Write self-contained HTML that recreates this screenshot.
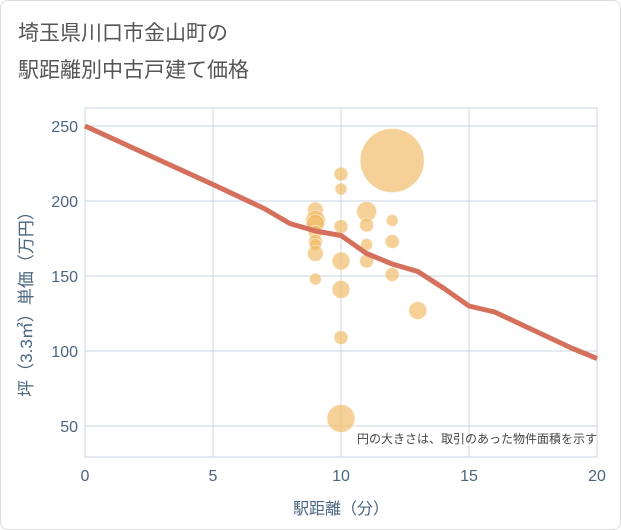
<!DOCTYPE html>
<html><head><meta charset="utf-8"><style>
body{margin:0;background:#fff;font-family:"Liberation Sans","Noto Sans CJK JP",sans-serif}
#wrap{position:relative;width:619px;height:528px;border:1px solid #ddd;border-radius:8px;background:#fff}
</style></head><body>
<div id="wrap">
<svg id="c" width="621" height="530" style="position:absolute;left:-1px;top:-1px">
<text x="18" y="40" font-size="21" fill="#555">埼玉県川口市金山町の</text>
<text x="18" y="77" font-size="21" fill="#555">駅距離別中古戸建て価格</text>
<g id="grid"></g>
<g id="bubbles"></g>
<path id="trend" fill="none" stroke="#d4705c" stroke-width="5" stroke-linejoin="round"/>
<text x="597" y="443" font-size="12" fill="#444" text-anchor="end">円の大きさは、取引のあった物件面積を示す</text>
<text x="341" y="514" font-size="16" fill="#4a6580" text-anchor="middle">駅距離（分）</text>
<text transform="translate(32,300) rotate(-90)" font-size="17" fill="#4a6580" text-anchor="middle">坪（3.3㎡）単価（万円）</text>
</svg></div>
<script>
const xTicks=[0,5,10,15,20];
const yTicks=[50,100,150,200,250];
const bx=[9,9,9,9,9,9,9,9,10,10,10,10,10,10,10,11,11,11,11,12,12,12,12,13];
const by=[194,187,185,179,173,171,165,148,218,208,183,160,141,109,55,193,184,171,160,227,187,173,151,127];
const br=[8,10,9,7,7,6,8,6,7,6,7,9,9,7,14,10,7,6,7,32,6,7,7,9];
const lx=[0,5,7,8,9,10,11,12,13,14,15,16,17,18,19,20];
const ly=[250,211,195,185,180,177,165,158,153,142,130,126,118,110,102,95];
const L=85,R=597,T=108,B=457;
const X=v=>L+v*(R-L)/20, Y=v=>126+(250-v)*1.5;
const ns="http://www.w3.org/2000/svg",g=document.getElementById('grid');
function mk(t,a,p){const e=document.createElementNS(ns,t);for(const k in a)e.setAttribute(k,a[k]);p.appendChild(e);return e;}
xTicks.forEach(v=>{const l=mk('line',{x1:X(v),x2:X(v),y1:T,y2:B,stroke:'#c8d4e0'},g);


const t=mk('text',{x:X(v),y:481,'font-size':16,fill:'#4a6580','text-anchor':'middle'},g);t.textContent=v;

});
yTicks.forEach(v=>{const l=mk('line',{x1:L,x2:R,y1:Y(v),y2:Y(v),stroke:'#c8d4e0'},g);


const t=mk('text',{x:78,y:Y(v)+6,'font-size':16,fill:'#4a6580','text-anchor':'end'},g);t.textContent=v;

});
const fr=mk('rect',{x:L,y:T,width:R-L,height:B-T,fill:'none',stroke:'#c8d4e0'},g);


const bg=document.getElementById('bubbles');
bx.forEach((v,i)=>{const c=mk('circle',{cx:X(v),cy:Y(by[i]),r:br[i],fill:'#f0b860','fill-opacity':0.65,stroke:'#fff','stroke-opacity':0.5},bg);

});
document.getElementById('trend').setAttribute('d',lx.map((v,i)=>(i?'L':'M')+X(v)+','+Y(ly[i])).join(' '));
</script></body></html>
